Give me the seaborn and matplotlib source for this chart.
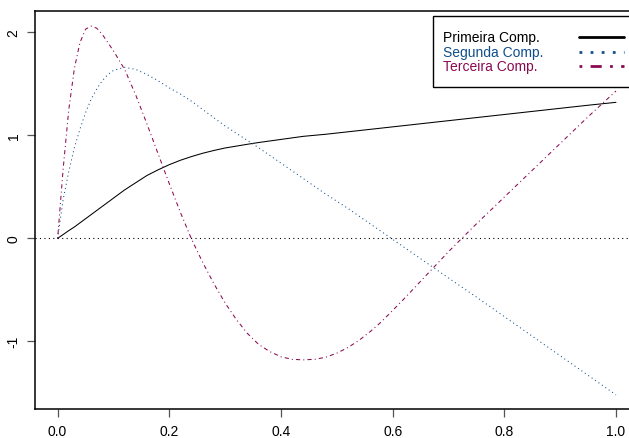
import pandas as pd
import matplotlib
matplotlib.use('Agg')
import matplotlib.pyplot as plt
from matplotlib.lines import Line2D
from matplotlib.patches import Rectangle
import seaborn as sns

# grid of the functional components
t = [0, 0.01, 0.02, 0.03, 0.04, 0.05, 0.06, 0.07, 0.08, 0.09, 0.10,
     0.12, 0.14, 0.16, 0.18, 0.20, 0.22, 0.24, 0.26, 0.28, 0.30,
     0.32, 0.34, 0.36, 0.38, 0.40, 0.42, 0.44, 0.46, 0.48, 0.50,
     0.52, 0.54, 0.56, 0.58, 0.60, 0.62, 0.64, 0.66, 0.68, 0.70,
     0.75, 0.80, 0.85, 0.90, 0.95, 1.00]

primeira = [0, 0.037, 0.075, 0.11, 0.15, 0.19, 0.23, 0.27, 0.31, 0.35, 0.39,
            0.47, 0.54, 0.61, 0.665, 0.715, 0.758, 0.794, 0.826, 0.853, 0.877,
            0.895, 0.913, 0.93, 0.945, 0.96, 0.975, 0.99, 1.0, 1.01, 1.022,
            1.034, 1.046, 1.058, 1.07, 1.082, 1.094, 1.106, 1.118, 1.13, 1.142,
            1.172, 1.202, 1.232, 1.262, 1.292, 1.32]

segunda = [0, 0.38, 0.65, 0.88, 1.06, 1.22, 1.35, 1.45, 1.53, 1.59, 1.63,
           1.66, 1.64, 1.59, 1.53, 1.46, 1.40, 1.33, 1.25, 1.17, 1.09,
           1.02, 0.95, 0.88, 0.805, 0.73, 0.655, 0.58, 0.505, 0.43, 0.36,
           0.29, 0.215, 0.14, 0.065, -0.01, -0.085, -0.16, -0.235, -0.31, -0.385,
           -0.57, -0.76, -0.95, -1.14, -1.33, -1.52]

terceira = [0, 0.68, 1.25, 1.65, 1.90, 2.03, 2.06, 2.04, 1.98, 1.90, 1.82,
            1.64, 1.39, 1.11, 0.82, 0.53, 0.25, -0.01, -0.236, -0.442, -0.628,
            -0.788, -0.924, -1.03, -1.10, -1.15, -1.175, -1.18, -1.175, -1.155, -1.115,
            -1.06, -0.99, -0.905, -0.81, -0.70, -0.59, -0.475, -0.36, -0.245, -0.13,
            0.14, 0.40, 0.66, 0.92, 1.18, 1.43]

labels = ['Primeira Comp.', 'Segunda Comp.', 'Terceira Comp.']
colors = ['black', '#104E8B', '#8B0A50']
dashes = ['-', (0, (1, 3)), (0, (1, 3, 4, 3))]

x_ticks = [0.0, 0.2, 0.4, 0.6, 0.8, 1.0]
y_ticks = [-1, 0, 1, 2]

W, H = 629, 439


def px(x, y):
    # pixel position (from top-left) to figure fraction
    return x / W, 1 - y / H


def main():
    sns.set_theme(style='ticks')
    plt.rcParams['font.family'] = ['Liberation Sans', 'DejaVu Sans']

    df = pd.DataFrame({'t': t, labels[0]: primeira,
                       labels[1]: segunda, labels[2]: terceira})

    fig = plt.figure(figsize=(W / 100, H / 100), dpi=100)
    ax = fig.add_axes([0.0561, 0.0661, 0.9587, 0.9066])

    ax.axhline(0, color='black', lw=0.8, ls=(0, (1, 3)))
    for lab, col, ls in zip(labels, colors, dashes):
        sns.lineplot(x='t', y=lab, data=df, color=col, lw=0.75,
                     linestyle=ls, ax=ax)

    ax.set_xlim(-0.04, 1.04)
    ax.set_ylim(-1.657, 2.207)
    ax.set_xticks(x_ticks)
    ax.set_xticklabels(['%.1f' % v for v in x_ticks])
    ax.set_yticks(y_ticks)
    ax.set_yticklabels([str(v) for v in y_ticks], rotation=90, va='center')
    ax.set_xlabel('')
    ax.set_ylabel('')
    ax.tick_params(length=5.5, width=0.9, color='#555555', labelsize=10,
                   labelcolor='black')
    ax.tick_params(axis='x', pad=5.5)
    ax.tick_params(axis='y', pad=5)
    for side in ax.spines.values():
        side.set_visible(True)
        side.set_color('black')
        side.set_linewidth(1.1)

    # legend box in the top right corner, drawn by hand like R's legend()
    x0, y0 = px(433, 88)
    x1, y1 = px(645, 17)
    fig.patches.append(Rectangle((x0, y0), x1 - x0, y1 - y0,
                                 transform=fig.transFigure, facecolor='white',
                                 edgecolor='black', lw=1.0, zorder=5))
    rows = [38, 52.5, 67]
    for lab, col, ls, yr in zip(labels, colors, dashes, rows):
        tx, ty = px(443, yr)
        fig.text(tx, ty, lab, color=col, fontsize=10, ha='left',
                 va='center', zorder=6)
        lx0, ly = px(579, yr)
        lx1, _ = px(624, yr)
        fig.lines.append(Line2D([lx0, lx1], [ly, ly], color=col, lw=2,
                                linestyle=ls, transform=fig.transFigure,
                                zorder=6))

    fig.savefig('out.png', dpi=100)


if __name__ == '__main__':
    main()
